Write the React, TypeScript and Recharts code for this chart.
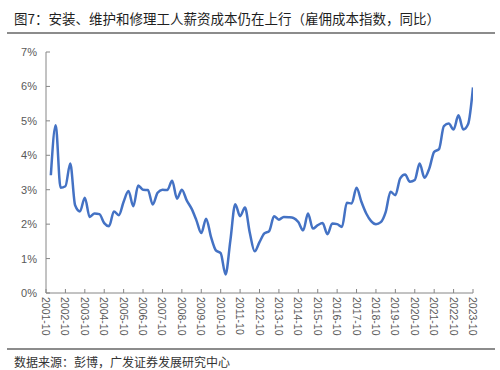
import React from "react";
import { LineChart, Line, XAxis, YAxis } from "recharts";

const TITLE = "图7：安装、维护和修理工人薪资成本仍在上行（雇佣成本指数，同比）";
const SOURCE = "数据来源：彭博，广发证券发展研究中心";

// quarterly observations starting 2002-01
const START_YEAR = 2002;
const QUARTER_MONTHS = ["01", "04", "07", "10"];

const eciInstallMaintRepairYoY: number[] = [
  3.42, 4.87, 3.06, 3.10, 3.76, 2.55, 2.37, 2.77, 2.21, 2.31,
  2.29, 2.03, 1.94, 2.37, 2.26, 2.65, 2.96, 2.52, 3.12, 3.00,
  2.99, 2.57, 2.91, 3.00, 2.99, 3.26, 2.74, 3.00, 2.69, 2.45,
  2.11, 1.74, 2.16, 1.63, 1.24, 1.16, 0.54, 1.53, 2.58, 2.23,
  2.48, 1.75, 1.21, 1.48, 1.73, 1.80, 2.23, 2.13, 2.21, 2.20,
  2.18, 2.06, 1.82, 2.31, 1.87, 1.97, 2.03, 1.71, 2.02, 2.00,
  1.92, 2.62, 2.60, 3.06, 2.65, 2.31, 2.09, 2.00, 2.06, 2.35,
  2.94, 2.84, 3.33, 3.44, 3.23, 3.28, 3.76, 3.35, 3.62, 4.10,
  4.18, 4.85, 4.92, 4.75, 5.16, 4.75, 4.91, 5.97,
];

const xTickLabels = [
  "2001-10", "2002-10", "2003-10", "2004-10", "2005-10", "2006-10",
  "2007-10", "2008-10", "2009-10", "2010-10", "2011-10", "2012-10",
  "2013-10", "2014-10", "2015-10", "2016-10", "2017-10", "2018-10",
  "2019-10", "2020-10", "2021-10", "2022-10", "2023-10",
];

const yTicks = [0, 1, 2, 3, 4, 5, 6, 7];

const dates = eciInstallMaintRepairYoY.map(
  (_, i) => `${START_YEAR + Math.floor(i / 4)}-${QUARTER_MONTHS[i % 4]}`
);

// position = quarters since 2001-10
const toPos = (d: string) => {
  const [y, m] = d.split("-").map(Number);
  return (y - 2001) * 4 + (m - 10) / 3;
};

const data = dates.map((d, i) => ({ date: d, t: toPos(d), v: eciInstallMaintRepairYoY[i] }));
const xTicks = xTickLabels.map(toPos);
const labelByPos: Record<number, string> = {};
xTickLabels.forEach((l) => (labelByPos[toPos(l)] = l));

const AXIS_COLOR = "#868686";
const LABEL_COLOR = "#595959";
const FONT = "'Liberation Sans', Arial, sans-serif";

const XTick = (props: any) => {
  const { x, y, payload } = props;
  const axisY = y - 4;
  return (
    <g>
      <line x1={x} x2={x} y1={axisY} y2={axisY - 4} stroke={AXIS_COLOR} strokeWidth={1} />
      <text
        x={x}
        y={y}
        transform={`rotate(90, ${x}, ${y})`}
        textAnchor="start"
        dominantBaseline="central"
        fontSize={10.5}
        fontFamily={FONT}
        fill={LABEL_COLOR}
      >
        {labelByPos[payload.value]}
      </text>
    </g>
  );
};

const YTick = (props: any) => {
  const { x, y, payload } = props;
  const axisX = x + 9;
  return (
    <g>
      <line x1={axisX} x2={axisX + 4} y1={y} y2={y} stroke={AXIS_COLOR} strokeWidth={1} />
      <text
        x={x}
        y={y}
        textAnchor="end"
        dominantBaseline="central"
        fontSize={11}
        fontFamily={FONT}
        fill={LABEL_COLOR}
      >
        {`${payload.value}%`}
      </text>
    </g>
  );
};

export default function App() {
  return (
    <div
      style={{
        position: "absolute",
        left: 0,
        top: 0,
        width: 500,
        height: 370,
        background: "#fff",
        overflow: "hidden",
      }}
    >
      <div
        style={{
          position: "absolute",
          left: 14,
          top: 9,
          fontSize: 13.5,
          lineHeight: "18px",
          fontFamily: "'Noto Sans CJK SC', sans-serif",
          color: "#1f1f1f",
          whiteSpace: "nowrap",
        }}
      >
        {TITLE}
      </div>
      <div style={{ position: "absolute", left: 7, top: 32, width: 488, height: 2, background: "#8c8c8c" }} />
      <LineChart
        width={500}
        height={370}
        data={data}
        margin={{ top: 52, right: 27, bottom: 37, left: 6 }}
        style={{ position: "absolute", left: 0, top: 0 }}
      >
        <XAxis
          dataKey="t"
          type="number"
          domain={[0, 88]}
          ticks={xTicks}
          interval={0}
          height={40}
          tickSize={0}
          tickMargin={4}
          tickLine={false}
          axisLine={{ stroke: AXIS_COLOR, strokeWidth: 1 }}
          tick={<XTick />}
          allowDataOverflow
        />
        <YAxis
          type="number"
          domain={[0, 7]}
          ticks={yTicks}
          interval={0}
          width={40}
          tickSize={0}
          tickMargin={9}
          tickLine={false}
          axisLine={{ stroke: AXIS_COLOR, strokeWidth: 1 }}
          tick={<YTick />}
        />
        <Line
          dataKey="v"
          type="monotone"
          stroke="#4472C4"
          strokeWidth={2.5}
          dot={false}
          isAnimationActive={false}
        />
      </LineChart>
      <div style={{ position: "absolute", left: 7, top: 348, width: 488, height: 2, background: "#8c8c8c" }} />
      <div
        style={{
          position: "absolute",
          left: 14,
          top: 354,
          fontSize: 12,
          lineHeight: "16px",
          fontFamily: "'Noto Sans CJK SC', sans-serif",
          color: "#333",
          whiteSpace: "nowrap",
        }}
      >
        {SOURCE}
      </div>
    </div>
  );
}
